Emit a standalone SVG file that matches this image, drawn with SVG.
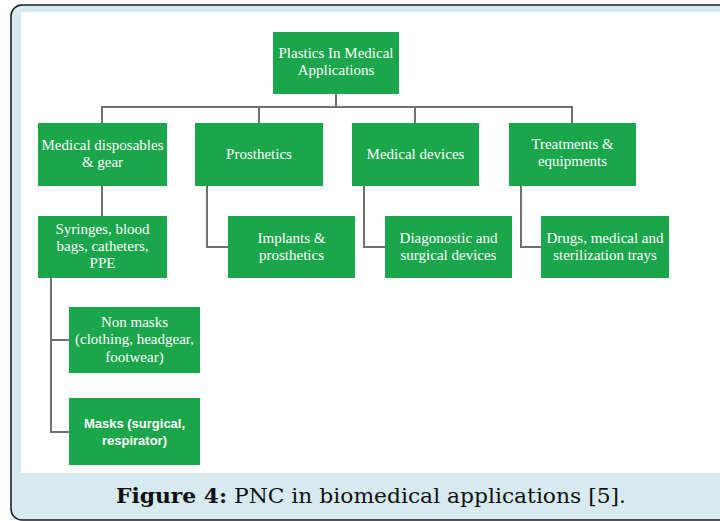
<svg xmlns="http://www.w3.org/2000/svg" width="720" height="521" viewBox="0 0 720 521">
<defs>
<style>
.box{fill:#1ba64b;}
.t{font-family:"Liberation Serif","Times New Roman",serif;font-size:15px;fill:#ffffff;text-anchor:middle;}
.ts{font-family:"Liberation Sans",Arial,sans-serif;font-size:13px;font-weight:bold;fill:#ffffff;text-anchor:middle;}
.c{fill:none;stroke:#707070;stroke-width:2;}
.cap{font-family:"DejaVu Serif","Liberation Serif",serif;font-size:20px;fill:#111111;}
</style>
</defs>
<rect x="11" y="5" width="730" height="515" rx="11" fill="#d6eaf0" stroke="#1a1a1a" stroke-width="1.5"/>
<rect x="21" y="12" width="699" height="461" fill="#ffffff"/>
<g id="connectors">
<path class="c" d="M336 94 V107 M102 123 V107 H572 V123 M259 107 V123 M415 107 V123"/>
<path class="c" d="M102 186 V216"/>
<path class="c" d="M207 186 V247 H228"/>
<path class="c" d="M364 186 V247 H385"/>
<path class="c" d="M521 186 V247 H541"/>
<path class="c" d="M51 278 V432 H69 M51 340 H69"/>
</g>
<g id="root">
<rect class="box" x="273" y="32" width="126" height="62"/>
<text class="t" x="336" y="58">Plastics In Medical</text>
<text class="t" x="336" y="75">Applications</text>
</g>
<g id="n-disposables">
<rect class="box" x="38" y="123" width="129" height="63"/>
<text class="t" x="102.5" y="150">Medical disposables</text>
<text class="t" x="102.5" y="167">&amp; gear</text>
</g>
<g id="n-prosthetics">
<rect class="box" x="195" y="123" width="128" height="63"/>
<text class="t" x="259" y="159">Prosthetics</text>
</g>
<g id="n-devices">
<rect class="box" x="352" y="123" width="127" height="63"/>
<text class="t" x="415.5" y="159">Medical devices</text>
</g>
<g id="n-treatments">
<rect class="box" x="509" y="123" width="127" height="63"/>
<text class="t" x="572.5" y="149">Treatments &amp;</text>
<text class="t" x="572.5" y="166">equipments</text>
</g>
<g id="n-syringes">
<rect class="box" x="38" y="216" width="129" height="62"/>
<text class="t" x="102.5" y="234">Syringes, blood</text>
<text class="t" x="102.5" y="251">bags, catheters,</text>
<text class="t" x="102.5" y="268">PPE</text>
</g>
<g id="n-implants">
<rect class="box" x="228" y="216" width="127" height="62"/>
<text class="t" x="291.5" y="243">Implants &amp;</text>
<text class="t" x="291.5" y="260">prosthetics</text>
</g>
<g id="n-diagnostic">
<rect class="box" x="385" y="216" width="127" height="62"/>
<text class="t" x="448.5" y="243">Diagonostic and</text>
<text class="t" x="448.5" y="260">surgical devices</text>
</g>
<g id="n-drugs">
<rect class="box" x="541" y="216" width="128" height="62"/>
<text class="t" x="605" y="243">Drugs, medical and</text>
<text class="t" x="605" y="260">sterilization trays</text>
</g>
<g id="n-nonmasks">
<rect class="box" x="69" y="307" width="131" height="66"/>
<text class="t" x="134.5" y="327">Non masks</text>
<text class="t" x="134.5" y="344">(clothing, headgear,</text>
<text class="t" x="134.5" y="362">footwear)</text>
</g>
<g id="n-masks">
<rect class="box" x="69" y="398" width="131" height="67"/>
<text class="ts" x="134.5" y="428">Masks (surgical,</text>
<text class="ts" x="134.5" y="445">respirator)</text>
</g>
<text class="cap" x="116" y="503" textLength="510" lengthAdjust="spacingAndGlyphs"><tspan font-weight="bold">Figure 4:</tspan> PNC in biomedical applications [5].</text>
</svg>
